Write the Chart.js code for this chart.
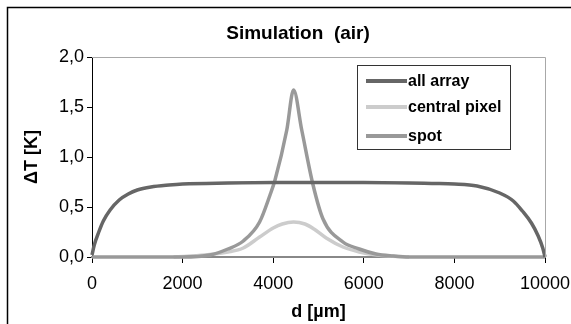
<!DOCTYPE html>
<html>
<head>
<meta charset="utf-8">
<script src="https://cdn.jsdelivr.net/npm/chart.js"></script>
<style>
  html, body { margin: 0; padding: 0; background: #fff; }
  #wrap { width: 571px; height: 324px; position: relative; }
</style>
</head>
<body>
<div id="wrap"><canvas id="myChart"></canvas></div>
<script>
// values
const titleText = 'Simulation  (air)';
const xTitle = 'd [\u00b5m]';
const yTitle = '\u0394T [K]';
const seriesNames = ['all array', 'central pixel', 'spot'];

const allArrayX = [0, 50, 150, 250, 400, 600, 800, 1000, 1300, 1700, 2000, 3000, 4000, 5000, 6000, 7000, 7500, 8000, 8500, 9000, 9300, 9500, 9700, 9850, 9950, 10000];
const allArrayY = [0.02, 0.12, 0.25, 0.36, 0.47, 0.57, 0.63, 0.67, 0.70, 0.72, 0.73, 0.74, 0.745, 0.745, 0.745, 0.74, 0.735, 0.73, 0.71, 0.64, 0.56, 0.46, 0.34, 0.21, 0.09, 0.0];

const centralX = [1800, 2500, 3000, 3340, 3700, 4000, 4200, 4450, 4700, 4900, 5170, 5540, 5900, 6300, 7000];
const centralY = [0.0, 0.02, 0.05, 0.09, 0.20, 0.29, 0.33, 0.35, 0.33, 0.28, 0.19, 0.10, 0.05, 0.02, 0.0];

const spotX = [0, 2000, 2600, 3000, 3340, 3700, 3930, 4040, 4300, 4450, 4630, 4880, 5100, 5540, 5900, 6270, 6640, 7000, 10000];
const spotY = [0, 0, 0.02, 0.08, 0.16, 0.35, 0.62, 0.77, 1.27, 1.67, 1.27, 0.72, 0.38, 0.15, 0.08, 0.03, 0.01, 0, 0];

const xTicks = ['0', '2000', '4000', '6000', '8000', '10000'];
const yTicks = ['0,0', '0,5', '1,0', '1,5', '2,0'];

const colors = ['#666666', '#cccccc', '#999999'];
const FONT = 'Arial, "Liberation Sans", sans-serif';

function pts(xs, ys) { return xs.map((x, i) => ({ x: x, y: ys[i] })); }

// frame, plot border, title and legend drawn around the chart area
const decor = {
  id: 'decor',
  beforeDraw(chart) {
    const c = chart.ctx;
    c.save();
    c.fillStyle = '#fff';
    c.fillRect(0, 0, chart.width, chart.height);
    c.restore();
  },
  afterDatasetsDraw(chart) {
    const c = chart.ctx, a = chart.chartArea;
    c.save();
    // outer frame
    c.strokeStyle = '#000';
    c.lineWidth = 1.5;
    c.beginPath();
    c.moveTo(7.5, chart.height);
    c.lineTo(7.5, 7.5);
    c.lineTo(chart.width, 7.5);
    c.stroke();
    // plot area top/right border
    c.strokeStyle = '#a8a8a8';
    c.lineWidth = 1;
    c.beginPath();
    c.moveTo(a.left, a.top + 0.5);
    c.lineTo(a.right + 0.5, a.top + 0.5);
    c.lineTo(a.right + 0.5, a.bottom);
    c.stroke();
    // title
    c.fillStyle = '#000';
    c.font = 'bold 19px ' + FONT;
    c.textAlign = 'center';
    c.textBaseline = 'middle';
    c.fillText(titleText, 298, 34);
    // legend
    const lx = 357, ly = 65, lw = 153, lh = 84;
    c.fillStyle = '#fff';
    c.fillRect(lx, ly, lw, lh);
    c.strokeStyle = '#333';
    c.lineWidth = 1;
    c.strokeRect(lx + 0.5, ly + 0.5, lw, lh);
    const rows = [81, 107, 136];
    c.font = 'bold 16px ' + FONT;
    c.textAlign = 'left';
    chart.data.datasets.forEach((ds, i) => {
      c.strokeStyle = ds.borderColor;
      c.lineWidth = 4;
      c.beginPath();
      c.moveTo(366, rows[i]);
      c.lineTo(407, rows[i]);
      c.stroke();
      c.fillStyle = '#000';
      c.fillText(ds.label, 408, rows[i] + 1);
    });
    c.restore();
  }
};

new Chart(document.getElementById('myChart'), {
  type: 'line',
  data: {
    datasets: [
      { label: seriesNames[0], data: pts(allArrayX, allArrayY), borderColor: colors[0], order: 1 },
      { label: seriesNames[1], data: pts(centralX, centralY), borderColor: colors[1], order: 3 },
      { label: seriesNames[2], data: pts(spotX, spotY), borderColor: colors[2], order: 2 }
    ].map(d => Object.assign(d, {
      borderWidth: 3.5, pointRadius: 0, fill: false,
      cubicInterpolationMode: 'monotone', clip: false
    }))
  },
  options: {
    responsive: true,
    maintainAspectRatio: false,
    animation: false,
    events: [],
    layout: { padding: { top: 57, right: 0, left: 0, bottom: 0 } },
    plugins: { legend: { display: false }, tooltip: { enabled: false }, title: { display: false } },
    scales: {
      x: {
        type: 'linear', min: 0, max: 10000,
        afterFit(s) { s.height = 67; s.paddingRight = 26; },
        afterBuildTicks(s) { s.ticks = xTicks.map(t => ({ value: Number(t) })); },
        ticks: { color: '#000', font: { family: FONT, size: 18 }, padding: 10, maxRotation: 0,
                 callback: (v, i) => xTicks[i] },
        grid: { drawOnChartArea: false, tickLength: 6, color: '#000', tickWidth: 1 },
        border: { color: '#888', width: 2 },
        title: { display: true, text: xTitle, color: '#000', font: { family: FONT, size: 18, weight: 'bold' },
                 padding: { top: 0, bottom: 1 } }
      },
      y: {
        min: 0, max: 2,
        afterFit(s) { s.width = 92; },
        ticks: { stepSize: 0.5, color: '#000', font: { family: FONT, size: 18 }, padding: 3,
                 callback: (v, i) => yTicks[i] },
        grid: { drawOnChartArea: false, tickLength: 5, color: '#000', tickWidth: 1 },
        border: { color: '#000', width: 1 },
        title: { display: true, text: yTitle, color: '#000', font: { family: FONT, size: 18, weight: 'bold' },
                 padding: { top: 21, bottom: 0 } }
      }
    }
  },
  plugins: [decor]
});
</script>
</body>
</html>
